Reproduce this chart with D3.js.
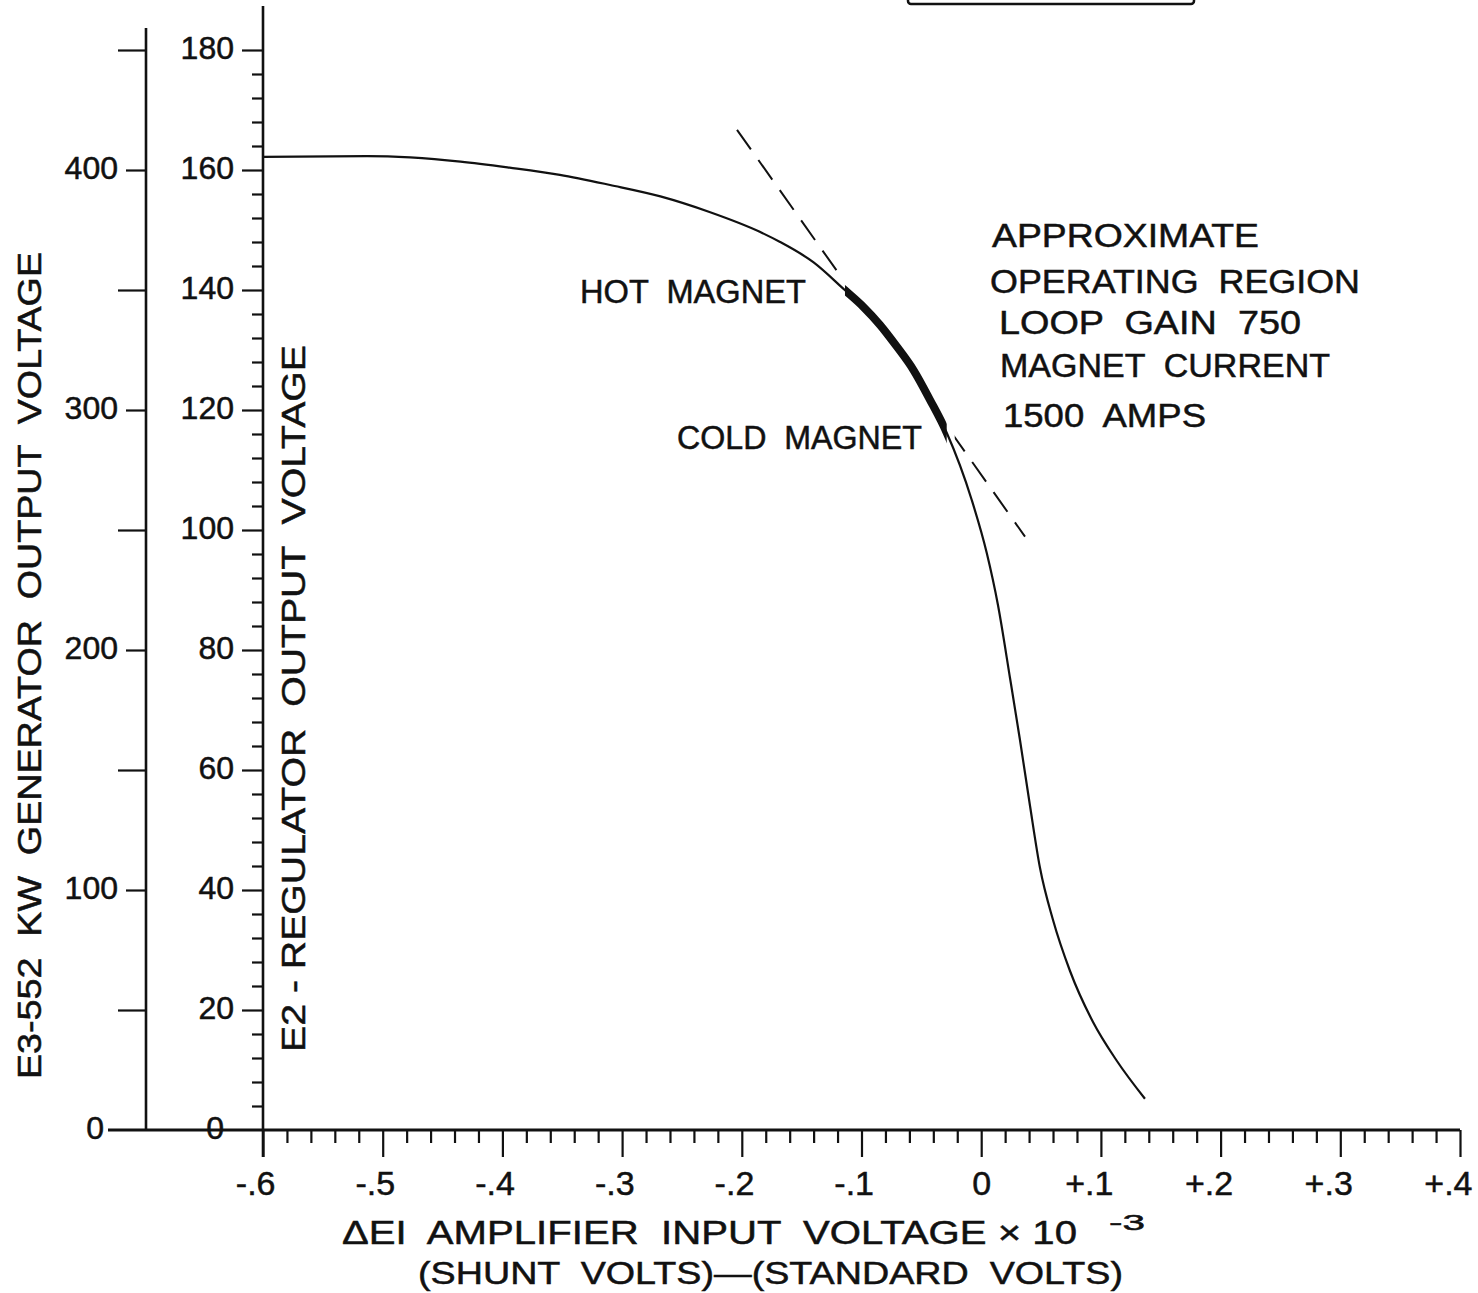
<!DOCTYPE html>
<html><head><meta charset="utf-8">
<script src="https://cdn.jsdelivr.net/npm/d3@7"></script>
<style>
html,body{margin:0;padding:0;background:#fff;}
svg{display:block;background:#fff;}
text{font-family:"Liberation Sans",Arial,sans-serif;fill:#111;white-space:pre;stroke:#111;stroke-width:0.5;}
</style>
</head><body>
<svg id="chart" width="1478" height="1293"></svg>
<script>
// ---- data ----
const curveX  = [-0.600,-0.513,-0.435,-0.394,-0.352,-0.310,-0.268,-0.227,-0.185,-0.168,-0.140,-0.114,-0.0985,-0.0846,-0.0706,-0.0567,-0.0428,-0.0288,-0.0079,0.0046,0.0140,0.0241,0.0324,0.0408,0.0491,0.0600,0.0742,0.0934,0.1134,0.1368];
const curveE2 = [162.2,162.3,161.4,160.4,159.2,157.5,155.6,153.0,149.7,148.0,144.6,140.0,137.2,134.2,130.6,126.7,121.7,116.2,105.0,96.2,87.5,75.3,65.0,54.0,43.7,35.0,26.5,18.0,11.5,5.2];
const tangentX  = [-0.204, 0.0366];
const tangentE2 = [166.7, 98.9];
const operatingRegionX = [-0.1138, -0.0288];
const xTickValues = [-0.6,-0.5,-0.4,-0.3,-0.2,-0.1,0,0.1,0.2,0.3,0.4];
const xTickLabels = ["-.6","-.5","-.4","-.3","-.2","-.1","0","+.1","+.2","+.3","+.4"];
const e2TickValues = [0,20,40,60,80,100,120,140,160,180];
const e2TickLabels = ["0","20","40","60","80","100","120","140","160","180"];
const e3TickValues = [0,100,200,300,400];
const e3TickLabels = ["0","100","200","300","400"];
const e3MinorValues = [50,150,250,350,450];
const e3Title = "E3-552  KW  GENERATOR  OUTPUT  VOLTAGE";
const e2Title = "E2 - REGULATOR  OUTPUT  VOLTAGE";
const xTitle1 = "ΔEI  AMPLIFIER  INPUT  VOLTAGE × 10";
const xTitleExp = "-3";
const xTitle2 = "(SHUNT  VOLTS)—(STANDARD  VOLTS)";
const hotLabel = "HOT  MAGNET";
const coldLabel = "COLD  MAGNET";
const noteLines = ["APPROXIMATE","OPERATING  REGION","LOOP  GAIN  750","MAGNET  CURRENT","1500  AMPS"];

// ---- drawing ----
const svg = d3.select("#chart");
const x  = d3.scaleLinear().domain([-0.6, 0.4]).range([263, 1460]);
const y2 = d3.scaleLinear().domain([0, 180]).range([1130, 50]);
const y3 = d3.scaleLinear().domain([0, 450]).range([1130, 50]);
const ink = "#111";
const defs = svg.append("defs");

// top box (cropped figure box)
svg.append("rect").attr("x",908).attr("y",-20).attr("width",286).attr("height",24)
  .attr("rx",3).attr("fill","none").attr("stroke",ink).attr("stroke-width",2.5);

// axis lines
svg.append("line").attr("x1",108).attr("x2",x(0.4)).attr("y1",y2(0)).attr("y2",y2(0)).attr("stroke",ink).attr("stroke-width",2.8);
svg.append("line").attr("x1",146).attr("x2",146).attr("y1",28).attr("y2",y3(0)).attr("stroke",ink).attr("stroke-width",2.6);
svg.append("line").attr("x1",263).attr("x2",263).attr("y1",6).attr("y2",y2(0)+27).attr("stroke",ink).attr("stroke-width",2.6);

function styleAxis(g, size){
  g.select(".domain").remove();
  g.selectAll("line").attr("stroke",ink).attr("stroke-width",2.2);
  g.selectAll("text").attr("font-size",size).attr("fill",ink)
   .attr("font-family",'"Liberation Sans",Arial,sans-serif');
}

// E2 axis
const e2Minor = d3.range(0,181,4).filter(v => v % 20 !== 0);
svg.append("g").attr("transform","translate(263,0)")
  .call(d3.axisLeft(y2).tickValues(e2Minor).tickSize(11).tickFormat(""))
  .call(g=>styleAxis(g,32));
svg.append("g").attr("transform","translate(263,0)")
  .call(d3.axisLeft(y2).tickValues(e2TickValues).tickSize(21).tickPadding(8).tickFormat((d,i)=>e2TickLabels[i]))
  .call(g=>styleAxis(g,32))
  .call(g=>g.selectAll("text").attr("dy","0.27em"))
  .call(g=>g.selectAll(".tick").filter(d=>d===0).select("line").remove())
  .call(g=>g.selectAll(".tick").filter(d=>d===0).select("text").attr("x",-39));

// E3 axis
svg.append("g").attr("transform","translate(146,0)")
  .call(d3.axisLeft(y3).tickValues(e3MinorValues).tickSize(28).tickFormat(""))
  .call(g=>styleAxis(g,32));
svg.append("g").attr("transform","translate(146,0)")
  .call(d3.axisLeft(y3).tickValues(e3TickValues).tickSize(20).tickPadding(8).tickFormat((d,i)=>e3TickLabels[i]))
  .call(g=>styleAxis(g,32))
  .call(g=>g.selectAll("text").attr("dy","0.27em"))
  .call(g=>g.selectAll(".tick").filter(d=>d===0).select("line").remove())
  .call(g=>g.selectAll(".tick").filter(d=>d===0).select("text").attr("x",-42));

// X axis
const xMinor = d3.range(-30,21).map(i=>i/50).filter(v => Math.abs(Math.round(v*10)-v*10) > 1e-6);
svg.append("g").attr("transform",`translate(0,${y2(0)})`)
  .call(d3.axisBottom(x).tickValues(xMinor).tickSize(13).tickFormat(""))
  .call(g=>styleAxis(g,34));
svg.append("g").attr("transform",`translate(0,${y2(0)})`)
  .call(d3.axisBottom(x).tickValues(xTickValues).tickSize(27).tickPadding(14).tickFormat((d,i)=>xTickLabels[i]))
  .call(g=>styleAxis(g,34))
  .call(g=>g.selectAll("text").attr("text-anchor",d=>d===0?"middle":"end").attr("x",d=>d===0?0:12));

// curve
const pts = curveX.map((v,i)=>[v,curveE2[i]]);
const line = d3.line().x(d=>x(d[0])).y(d=>y2(d[1])).curve(d3.curveMonotoneX);
svg.append("path").attr("d",line(pts)).attr("fill","none").attr("stroke",ink).attr("stroke-width",2.2);

// thick operating region
const opX0 = x(operatingRegionX[0]), opX1 = x(operatingRegionX[1]);
defs.append("clipPath").attr("id","opclip").append("rect")
  .attr("x",opX0).attr("width",opX1-opX0).attr("y",0).attr("height",1293);
svg.append("path").attr("d",line(pts)).attr("fill","none").attr("stroke",ink)
  .attr("stroke-width",8).attr("clip-path","url(#opclip)");

// dashed tangent, interrupted across the operating region
const gapClip = defs.append("clipPath").attr("id","gapclip");
gapClip.append("rect").attr("x",0).attr("width",opX0-7).attr("y",0).attr("height",1293);
gapClip.append("rect").attr("x",opX1+8).attr("width",1478-opX1).attr("y",0).attr("height",1293);
const tpts = tangentX.map((v,i)=>[v,tangentE2[i]]);
svg.append("path").attr("d",d3.line().x(d=>x(d[0])).y(d=>y2(d[1]))(tpts))
  .attr("fill","none").attr("stroke",ink).attr("stroke-width",2).attr("stroke-dasharray","24,13")
  .attr("clip-path","url(#gapclip)");

// text helper
function txt(s, px, py, size, len, rot){
  const t = svg.append("text").attr("font-size",size).text(s);
  if (rot) t.attr("transform",`translate(${px},${py}) rotate(${rot})`);
  else t.attr("x",px).attr("y",py);
  if (len) t.attr("textLength",len).attr("lengthAdjust","spacingAndGlyphs");
  return t;
}

// axis titles
txt(e3Title, 41, 1079, 33, 827, -90);
txt(e2Title, 305, 1052, 33, 707, -90);
txt(xTitle1, 342, 1244, 33, 735);
txt(xTitleExp, 1109, 1230, 22, 36);
txt(xTitle2, 418, 1284, 32, 705);

// annotations
txt(hotLabel, 580, 303, 33, 226);
txt(coldLabel, 677, 449, 33, 245);
const noteX = [992, 990, 999, 1000, 1003];
const noteY = [247, 293, 334, 377, 427];
const noteW = [267, 370, 302, 330, 203];
noteLines.forEach((s,i)=>txt(s, noteX[i], noteY[i], 33, noteW[i]));
</script>
</body></html>
